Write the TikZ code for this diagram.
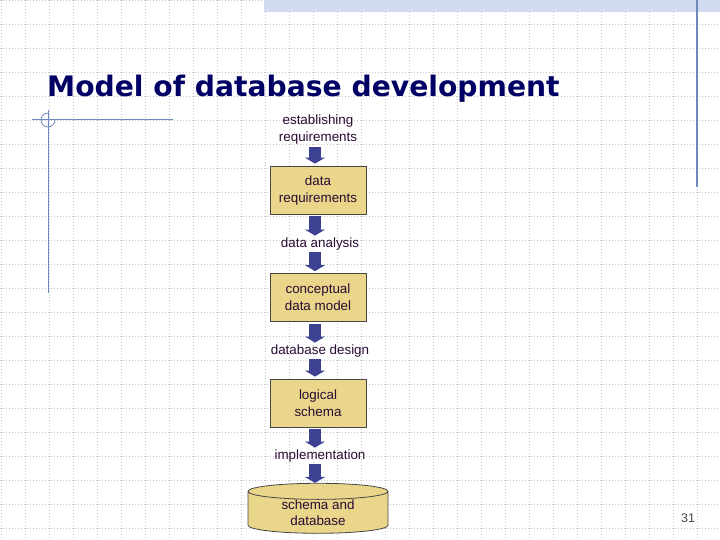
\documentclass[tikz,border=0pt]{standalone}
\usepackage{fontspec}
\setmainfont{Liberation Sans}
\newfontfamily\titlefont{DejaVu Sans}
\usetikzlibrary{arrows.meta,shapes.geometric}
\definecolor{boxfill}{RGB}{234,214,138}
\definecolor{boxline}{RGB}{70,70,70}
\definecolor{arrowcol}{RGB}{60,66,145}
\definecolor{labelcol}{RGB}{40,10,50}
\definecolor{titlecol}{RGB}{0,0,100}
\definecolor{decoline}{RGB}{112,136,192}
\definecolor{bandcol}{RGB}{208,218,240}
\definecolor{pagecol}{RGB}{70,70,80}
\tikzset{
  gridline/.style={gray!45,dash pattern=on 1pt off 2pt,line width=0.6pt},
  lbl/.style={text=labelcol,font=\fontsize{13.4}{17}\selectfont,align=center,inner sep=0pt},
  stagebox/.style={lbl,text height=29pt,text depth=3pt,draw=boxline,fill=boxfill,line width=0.8pt,minimum width=96pt,minimum height=48pt},
  dbstore/.style={lbl,font=\fontsize{13.4}{16}\selectfont,text height=25.5pt,text depth=-3.5pt,cylinder,shape border rotate=90,aspect=0.22,draw=boxline,fill=boxfill,line width=0.8pt,minimum width=140pt,minimum height=49pt},
  flow/.style={draw=arrowcol,line width=12pt,-{Triangle[length=6pt,width=20pt]}},
}
\begin{document}
\begin{tikzpicture}[x=1pt,y=-1pt]
	\useasboundingbox (0,0) rectangle (720,540);
	% background grid
	\foreach \gx in {1,25,...,721} \draw[gridline] (\gx,0) -- (\gx,540);
	\foreach \gy in {0,24,...,528} \draw[gridline] (0,\gy) -- (720,\gy);
	\fill[bandcol] (264,0) rectangle (720,12);
	\draw[decoline,line width=1.4pt] (697,0) -- (697,187);
	\draw[decoline,line width=1pt] (32,120) -- (173,120);
	\draw[decoline,line width=1pt] (48,110) -- (48,293);
	\draw[decoline,line width=0.8pt] (48,113) arc[start angle=270,end angle=0,radius=7];
	% title and page number
	\node[anchor=base west,inner sep=0pt,text=titlecol,font=\titlefont\bfseries\fontsize{28.2}{34}\selectfont] (title) at (47,97) {Model of database development};
	\node[anchor=base west,inner sep=0pt,text=pagecol,font=\fontsize{12.5}{15}\selectfont] (pagenum) at (681,522) {31};
	% stages
	\node[lbl] (establish) at (318,129.5) {establishing\\requirements};
	\node[stagebox] (datareq) at (318,190) {data\\requirements};
	\node[lbl] (analysis) at (320,244) {data analysis};
	\node[stagebox] (concept) at (318,297.5) {conceptual\\data model};
	\node[lbl] (design) at (320,351) {database design};
	\node[stagebox] (logical) at (318,403) {logical\\schema};
	\node[lbl] (implement) at (320,456) {implementation};
	\node[dbstore] (db) at (318,512.5) {schema and\\database};
	% arrows
	\draw[flow,shorten <=3pt,shorten >=2pt] ([xshift=-3pt]establish.south) -- ([xshift=-3pt]datareq.north);
	\draw[flow,shorten <=2pt,shorten >=2pt] ([xshift=-3pt]datareq.south) -- ([xshift=-5pt]analysis.north);
	\draw[flow,shorten <=2pt,shorten >=2pt] ([xshift=-5pt]analysis.south) -- ([xshift=-3pt]concept.north);
	\draw[flow,shorten <=2pt,shorten >=2pt] ([xshift=-3pt]concept.south) -- ([xshift=-5pt]design.north);
	\draw[flow,shorten <=2pt,shorten >=2pt] ([xshift=-5pt]design.south) -- ([xshift=-3pt]logical.north);
	\draw[flow,shorten <=2pt,shorten >=2pt] ([xshift=-3pt]logical.south) -- ([xshift=-5pt]implement.north);
	\draw[flow,shorten <=2pt,shorten >=0pt] ([xshift=-5pt]implement.south) -- ([xshift=-3pt]db.north);
\end{tikzpicture}
\end{document}
